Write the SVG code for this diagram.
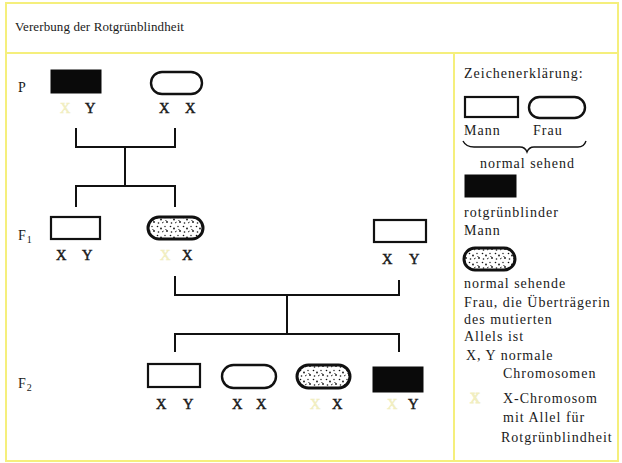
<svg xmlns="http://www.w3.org/2000/svg" width="622" height="463" viewBox="0 0 622 463">
<style>
.t{font-family:"Liberation Serif","Times New Roman",serif;fill:#1a1a1a}
.lab{font-size:14.5px;stroke:#1a1a1a;stroke-width:0.45}
.leg{font-size:14px;letter-spacing:1px}
.yx{fill:#f1eec0;stroke:#f1eec0}
.frame{fill:none;stroke:#f5ef7c;stroke-width:2}
.man{fill:#fff;stroke:#111;stroke-width:2.2}
.blk{fill:#0a0a0a;stroke:#0a0a0a;stroke-width:1}
.wom{fill:#fff;stroke:#111;stroke-width:2.4}
.car{fill:url(#stip);stroke:#111;stroke-width:3}
.con{fill:none;stroke:#111;stroke-width:2}
</style>
<defs>
<pattern id="stip" width="13" height="9" patternUnits="userSpaceOnUse">
<rect width="13" height="9" fill="#fff"/>
<circle cx="1.5" cy="1.5" r="0.8" fill="#111"/>
<circle cx="5" cy="3.5" r="0.9" fill="#111"/>
<circle cx="9" cy="1.5" r="0.7" fill="#111"/>
<circle cx="11" cy="6" r="0.9" fill="#111"/>
<circle cx="2.5" cy="7" r="0.8" fill="#111"/>
<path d="M6 7 l1.6 -0.9 M9.5 4 l1 1.2" stroke="#111" stroke-width="0.9"/>
</pattern>
</defs>
<rect width="622" height="463" fill="#fff"/>
<g id="frame">
<rect class="frame" x="6" y="3" width="612" height="458"/>
<line class="frame" x1="6" y1="53" x2="618" y2="53"/>
<line class="frame" x1="454" y1="53" x2="454" y2="461"/>
</g>
<text class="t" x="15" y="31" font-size="13" letter-spacing="0.1">Vererbung der Rotgrünblindheit</text>
<text class="t leg" x="18" y="92">P</text>
<text class="t leg" x="18" y="240">F<tspan font-size="10" dy="3">1</tspan></text>
<text class="t leg" x="18" y="388">F<tspan font-size="10" dy="3">2</tspan></text>
<g id="connectors">
<path class="con" d="M76 128 V147 H175 V128 M125 147 V186 M76 207 V186 H175 V207"/>
<path class="con" d="M175 276 V295 H399 V280 M287 295 V334 M175 352 V334 H399 V352"/>
</g>
<g id="p-man">
<rect class="blk" x="51" y="70" width="50" height="23"/>
<text class="t lab yx" x="60" y="113">X</text>
<text class="t lab" x="85" y="113">Y</text>
</g>
<g id="p-woman">
<rect class="wom" x="151" y="72" width="51" height="22" rx="11"/>
<text class="t lab" x="159" y="113">X</text>
<text class="t lab" x="185" y="113">X</text>
</g>
<g id="f1-man">
<rect class="man" x="51" y="217" width="49" height="22"/>
<text class="t lab" x="56" y="260">X</text>
<text class="t lab" x="82" y="260">Y</text>
</g>
<g id="f1-woman">
<rect class="car" x="148" y="217" width="55" height="22" rx="11"/>
<text class="t lab yx" x="160" y="260">X</text>
<text class="t lab" x="182" y="260">X</text>
</g>
<g id="f1-husband">
<rect class="man" x="374" y="220" width="52" height="22"/>
<text class="t lab" x="382" y="264">X</text>
<text class="t lab" x="409" y="264">Y</text>
</g>
<g id="f2-son">
<rect class="man" x="148" y="364" width="52" height="23"/>
<text class="t lab" x="156" y="409">X</text>
<text class="t lab" x="183" y="409">Y</text>
</g>
<g id="f2-daughter">
<rect class="wom" x="222" y="365" width="54" height="23" rx="11.5"/>
<text class="t lab" x="232" y="409">X</text>
<text class="t lab" x="256" y="409">X</text>
</g>
<g id="f2-carrier">
<rect class="car" x="297" y="365" width="53" height="23" rx="11.5"/>
<text class="t lab yx" x="310" y="409">X</text>
<text class="t lab" x="332" y="409">X</text>
</g>
<g id="f2-blind">
<rect class="blk" x="373" y="367" width="50" height="25"/>
<text class="t lab yx" x="387" y="409">X</text>
<text class="t lab" x="408" y="409">Y</text>
</g>
<g id="legend">
<text class="t leg" x="464" y="78">Zeichenerklärung:</text>
<rect class="man" x="465" y="97" width="53" height="20"/>
<rect class="wom" x="529" y="97" width="56" height="21" rx="10.5"/>
<text class="t leg" x="464" y="135">Mann</text>
<text class="t leg" x="533" y="135">Frau</text>
<path d="M463 141 Q466 147 474 147 H520 Q525 147 527 152 Q529 147 534 147 H578 Q584 147 586 141" fill="none" stroke="#111" stroke-width="1.4"/>
<text class="t leg" x="480" y="168">normal sehend</text>
<rect class="blk" x="465" y="175" width="51" height="22"/>
<text class="t leg" x="464" y="217">rotgrünblinder</text>
<text class="t leg" x="464" y="235">Mann</text>
<rect class="car" x="464" y="248" width="51" height="22" rx="11"/>
<text class="t leg" x="464" y="288">normal sehende</text>
<text class="t leg" x="464" y="307">Frau, die Überträgerin</text>
<text class="t leg" x="464" y="324">des mutierten</text>
<text class="t leg" x="464" y="341">Allels ist</text>
<text class="t leg" x="466" y="360">X, Y normale</text>
<text class="t leg" x="503" y="378">Chromosomen</text>
<text class="t leg yx" x="470" y="403">X</text>
<text class="t leg" x="503" y="403">X-Chromosom</text>
<text class="t leg" x="503" y="422">mit Allel für</text>
<text class="t leg" x="501" y="442">Rotgrünblindheit</text>
</g>
</svg>
